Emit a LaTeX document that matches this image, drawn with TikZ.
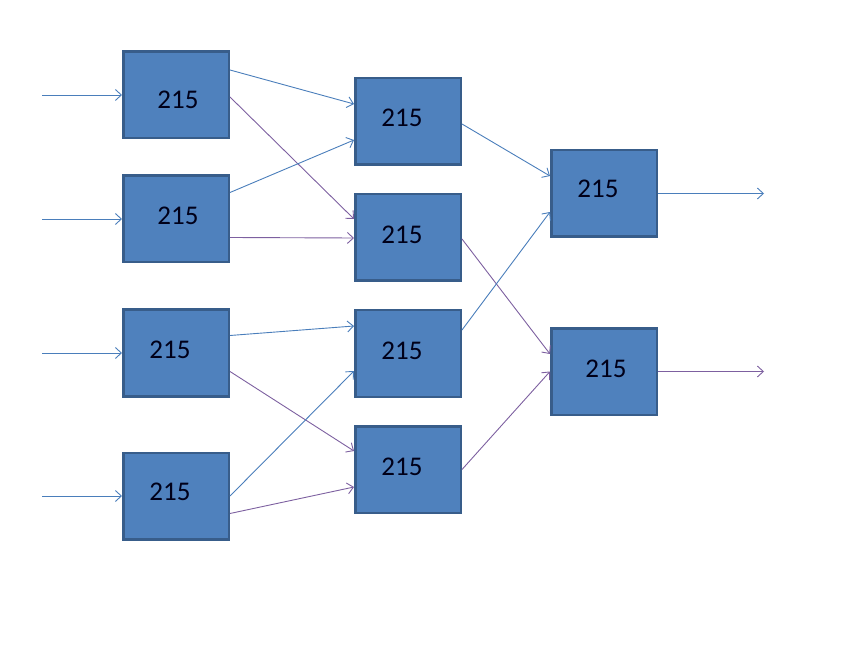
\documentclass[tikz,border=0pt]{standalone}
\usepackage{fontspec}
\setmainfont{Carlito}
\usetikzlibrary{positioning,arrows.meta}
\definecolor{boxfill}{HTML}{4F81BD}
\definecolor{boxline}{HTML}{385D8A}
\definecolor{lineblue}{HTML}{4A7EBB}
\definecolor{linepurple}{HTML}{7D60A0}

\begin{document}
\begin{tikzpicture}[x=1pt, y=-1pt,
	main/.style = {draw=boxline, fill=boxfill, line width=2.5pt, minimum width=105.5pt, minimum height=86.5pt,
		label={[font=\fontsize{27}{31}\selectfont, text=black!90!blue, shift={(#1)}]center:215}},
	bl/.style = {draw=lineblue, line width=0.9pt, -{Straight Barb[length=6pt,width=11pt]}},
	pu/.style = {bl, draw=linepurple}]
		\useasboundingbox (0,0) rectangle (868,655);
		% first column
		\node[main={2,5}] (a) at (176,95) {};
		\node[main={2,-3}] (b) [below=35pt of a] {};
		\node[main={-6,-3}] (c) [below=45pt of b] {};
		\node[main={-6,-4}] (d) [below=54pt of c] {};
		% second column
		\node[main={-6,-4}] (e) at (408,121.5) {};
		\node[main={-6,-3}] (f) [below=27pt of e] {};
		\node[main={-6,-3}] (g) [below=27pt of f] {};
		\node[main={-6,-3}] (h) [below=27pt of g] {};
		% third column
		\node[main={-6,-5}] (i) at (604,193.5) {};
		\node[main={2,-3}] (j) [below=89pt of i] {};
		% free ends
		\coordinate[left=80pt of a.west] (ina);
		\coordinate[left=80pt of b.west] (inb);
		\coordinate[left=80pt of c.west] (inc);
		\coordinate[left=80pt of d.west] (ind);
		\coordinate[right=106pt of i.east] (outi);
		\coordinate[right=106pt of j.east] (outj);
		\draw[bl] (ina) -- (a.west);
		\draw[bl] (inb) -- (b.west);
		\draw[bl] (inc) -- (c.west);
		\draw[bl] (ind) -- (d.west);
		\draw[bl] ([yshift=25pt]a.east) -- ([yshift=17.5pt]e.west);
		\draw[pu] ([yshift=-2pt]a.east) -- ([yshift=18.5pt]f.west);
		\draw[bl] ([yshift=26.5pt]b.east) -- ([yshift=-18.5pt]e.west);
		\draw[pu] ([yshift=-18.5pt]b.east) -- ([yshift=-0.5pt]f.west);
		\draw[bl] ([yshift=17.5pt]c.east) -- ([yshift=27.5pt]g.west);
		\draw[pu] ([yshift=-18.5pt]c.east) -- ([yshift=18.5pt]h.west);
		\draw[bl] (d.east) -- ([yshift=-17.5pt]g.west);
		\draw[pu] ([yshift=-17.5pt]d.east) -- ([yshift=-17.5pt]h.west);
		\draw[bl] ([yshift=-2.5pt]e.east) -- ([yshift=17.5pt]i.west);
		\draw[pu] ([yshift=-1.5pt]f.east) -- ([yshift=17.5pt]j.west);
		\draw[bl] ([yshift=23.5pt]g.east) -- ([yshift=-18.5pt]i.west);
		\draw[pu] (h.east) -- (j.west);
		\draw[bl] (i.east) -- (outi);
		\draw[pu] (j.east) -- (outj);
	\end{tikzpicture}
\end{document}
